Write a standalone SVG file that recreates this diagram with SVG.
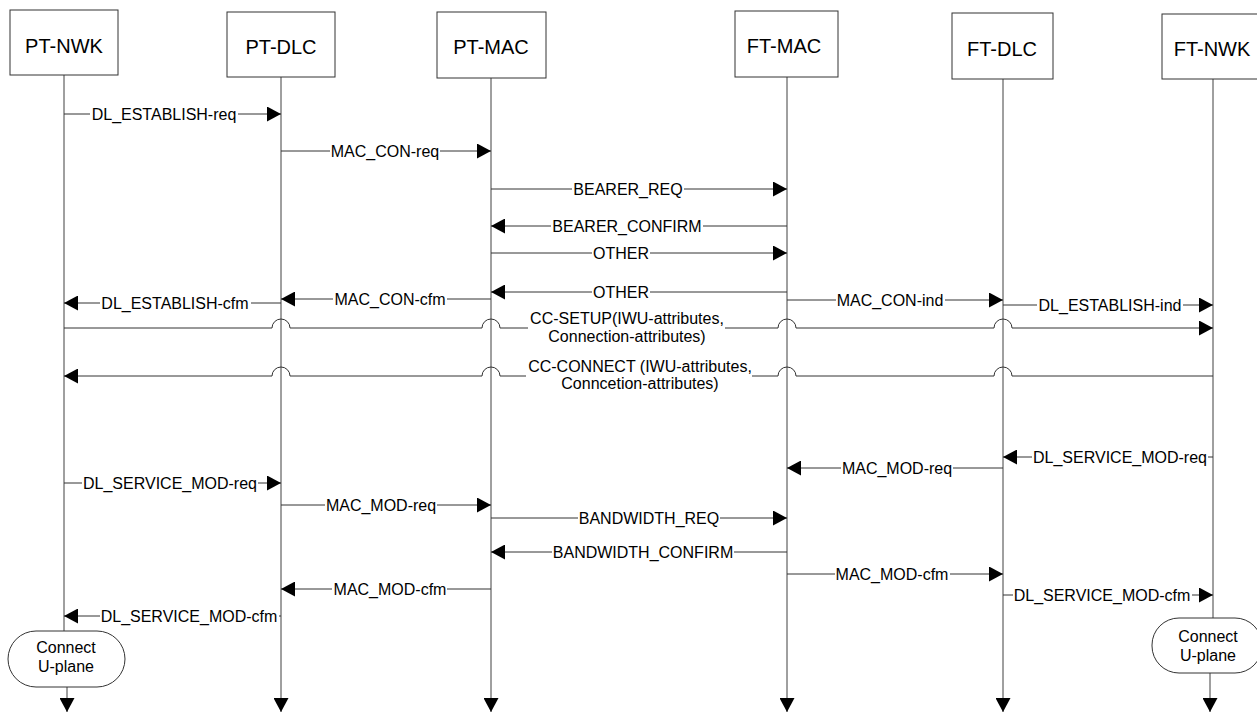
<svg xmlns="http://www.w3.org/2000/svg" width="1257" height="712" viewBox="0 0 1257 712">
<style>
.box{fill:#fff;stroke:#333;stroke-width:1}
.hd{font-family:"Liberation Sans",Arial,sans-serif;font-size:20px;fill:#000;text-anchor:middle}
.lb{font-family:"Liberation Sans",Arial,sans-serif;font-size:16px;fill:#000;text-anchor:middle}
.life{fill:none;stroke:#404040;stroke-width:1}
.msg{fill:none;stroke:#333;stroke-width:1}
.bg{fill:#fff;stroke:none}
</style>
<defs>
<marker id="ah" markerUnits="userSpaceOnUse" markerWidth="14" markerHeight="15" refX="14" refY="7.5" orient="auto" viewBox="0 0 14 15"><path d="M0,0 L14,7.5 L0,15 z" fill="#000"/></marker>
</defs>
<rect width="1257" height="712" fill="#fff"/>
<g id="lifelines">
<path class="life" d="M64 75 V631"/>
<path class="life" d="M67 687 V712" marker-end="url(#ah)"/>
<path class="life" d="M281 77 V712" marker-end="url(#ah)"/>
<path class="life" d="M491 78 V712" marker-end="url(#ah)"/>
<path class="life" d="M787 77 V712" marker-end="url(#ah)"/>
<path class="life" d="M1003 79 V712" marker-end="url(#ah)"/>
<path class="life" d="M1213 79 V618"/>
<path class="life" d="M1210 673 V712" marker-end="url(#ah)"/>
</g>
<g id="pt-nwk"><rect class="box" x="10" y="10" width="108" height="65"/><text class="hd" x="64" y="53">PT-NWK</text></g>
<g id="pt-dlc"><rect class="box" x="227" y="12" width="108" height="65"/><text class="hd" x="281" y="54">PT-DLC</text></g>
<g id="pt-mac"><rect class="box" x="437" y="12" width="109" height="66"/><text class="hd" x="491" y="54">PT-MAC</text></g>
<g id="ft-mac"><rect class="box" x="735" y="11" width="103" height="66"/><text class="hd" x="784" y="53">FT-MAC</text></g>
<g id="ft-dlc"><rect class="box" x="952" y="13" width="101" height="66"/><text class="hd" x="1002" y="56">FT-DLC</text></g>
<g id="ft-nwk"><rect class="box" x="1162" y="14" width="102" height="65"/><text class="hd" x="1212" y="56">FT-NWK</text></g>
<g id="pt-uplane"><rect class="box" x="8" y="631" width="117" height="56" rx="28" ry="28"/><text class="lb" x="66" y="653">Connect</text><text class="lb" x="66" y="672">U-plane</text></g>
<g id="ft-uplane"><rect class="box" x="1152" y="618" width="110" height="55" rx="27" ry="27"/><text class="lb" x="1208" y="642">Connect</text><text class="lb" x="1208" y="661">U-plane</text></g>
<g id="connectors">
<path class="msg" d="M64 114 H281" marker-end="url(#ah)"/><rect class="bg" x="90" y="106" width="148" height="16"/><text class="lb" x="164" y="120">DL_ESTABLISH-req</text>
<path class="msg" d="M281 151 H491" marker-end="url(#ah)"/><rect class="bg" x="330" y="143" width="110" height="16"/><text class="lb" x="385" y="157">MAC_CON-req</text>
<path class="msg" d="M491 189 H787" marker-end="url(#ah)"/><rect class="bg" x="572" y="181" width="112" height="16"/><text class="lb" x="628" y="195">BEARER_REQ</text>
<path class="msg" d="M787 226 H491" marker-end="url(#ah)"/><rect class="bg" x="551" y="218" width="152" height="16"/><text class="lb" x="627" y="232">BEARER_CONFIRM</text>
<path class="msg" d="M491 253 H787" marker-end="url(#ah)"/><rect class="bg" x="592" y="245" width="58" height="16"/><text class="lb" x="621" y="259">OTHER</text>
<path class="msg" d="M787 292 H491" marker-end="url(#ah)"/><rect class="bg" x="592" y="284" width="58" height="16"/><text class="lb" x="621" y="298">OTHER</text>
<path class="msg" d="M491 299 H281" marker-end="url(#ah)"/><rect class="bg" x="333" y="291" width="114" height="16"/><text class="lb" x="390" y="305">MAC_CON-cfm</text>
<path class="msg" d="M281 303 H64" marker-end="url(#ah)"/><rect class="bg" x="100" y="295" width="151" height="16"/><text class="lb" x="175" y="309">DL_ESTABLISH-cfm</text>
<path class="msg" d="M787 300 H1003" marker-end="url(#ah)"/><rect class="bg" x="836" y="292" width="109" height="16"/><text class="lb" x="890" y="306">MAC_CON-ind</text>
<path class="msg" d="M1003 305 H1213" marker-end="url(#ah)"/><rect class="bg" x="1037" y="297" width="146" height="16"/><text class="lb" x="1110" y="311">DL_ESTABLISH-ind</text>
<path class="msg" d="M64 328 H272 A9 9 0 0 1 290 328 H482 A9 9 0 0 1 500 328 H778 A9 9 0 0 1 796 328 H994 A9 9 0 0 1 1012 328 H1213" marker-end="url(#ah)"/><rect class="bg" x="528" y="319" width="197" height="18"/><text class="lb" x="627" y="324">CC-SETUP(IWU-attributes,</text><text class="lb" x="627" y="342">Connection-attributes)</text>
<path class="msg" d="M1213 376 H1012 A9 9 0 0 0 994 376 H796 A9 9 0 0 0 778 376 H500 A9 9 0 0 0 482 376 H290 A9 9 0 0 0 272 376 H64" marker-end="url(#ah)"/><rect class="bg" x="526" y="367" width="226" height="18"/><text class="lb" x="640" y="372">CC-CONNECT (IWU-attributes,</text><text class="lb" x="640" y="389">Conncetion-attributes)</text>
<path class="msg" d="M1213 457 H1003" marker-end="url(#ah)"/><rect class="bg" x="1032" y="449" width="176" height="16"/><text class="lb" x="1120" y="463">DL_SERVICE_MOD-req</text>
<path class="msg" d="M1003 468 H787" marker-end="url(#ah)"/><rect class="bg" x="841" y="460" width="112" height="16"/><text class="lb" x="897" y="474">MAC_MOD-req</text>
<path class="msg" d="M64 483 H281" marker-end="url(#ah)"/><rect class="bg" x="82" y="475" width="176" height="16"/><text class="lb" x="170" y="489">DL_SERVICE_MOD-req</text>
<path class="msg" d="M281 505 H491" marker-end="url(#ah)"/><rect class="bg" x="325" y="497" width="112" height="16"/><text class="lb" x="381" y="511">MAC_MOD-req</text>
<path class="msg" d="M491 518 H787" marker-end="url(#ah)"/><rect class="bg" x="578" y="510" width="142" height="16"/><text class="lb" x="649" y="524">BANDWIDTH_REQ</text>
<path class="msg" d="M787 552 H491" marker-end="url(#ah)"/><rect class="bg" x="552" y="544" width="182" height="16"/><text class="lb" x="643" y="558">BANDWIDTH_CONFIRM</text>
<path class="msg" d="M787 574 H1003" marker-end="url(#ah)"/><rect class="bg" x="835" y="566" width="115" height="16"/><text class="lb" x="892" y="580">MAC_MOD-cfm</text>
<path class="msg" d="M491 589 H281" marker-end="url(#ah)"/><rect class="bg" x="332" y="581" width="115" height="16"/><text class="lb" x="390" y="595">MAC_MOD-cfm</text>
<path class="msg" d="M1003 595 H1213" marker-end="url(#ah)"/><rect class="bg" x="1013" y="587" width="179" height="16"/><text class="lb" x="1102" y="601">DL_SERVICE_MOD-cfm</text>
<path class="msg" d="M281 616 H64" marker-end="url(#ah)"/><rect class="bg" x="100" y="608" width="179" height="16"/><text class="lb" x="189" y="622">DL_SERVICE_MOD-cfm</text>
</g>
</svg>
